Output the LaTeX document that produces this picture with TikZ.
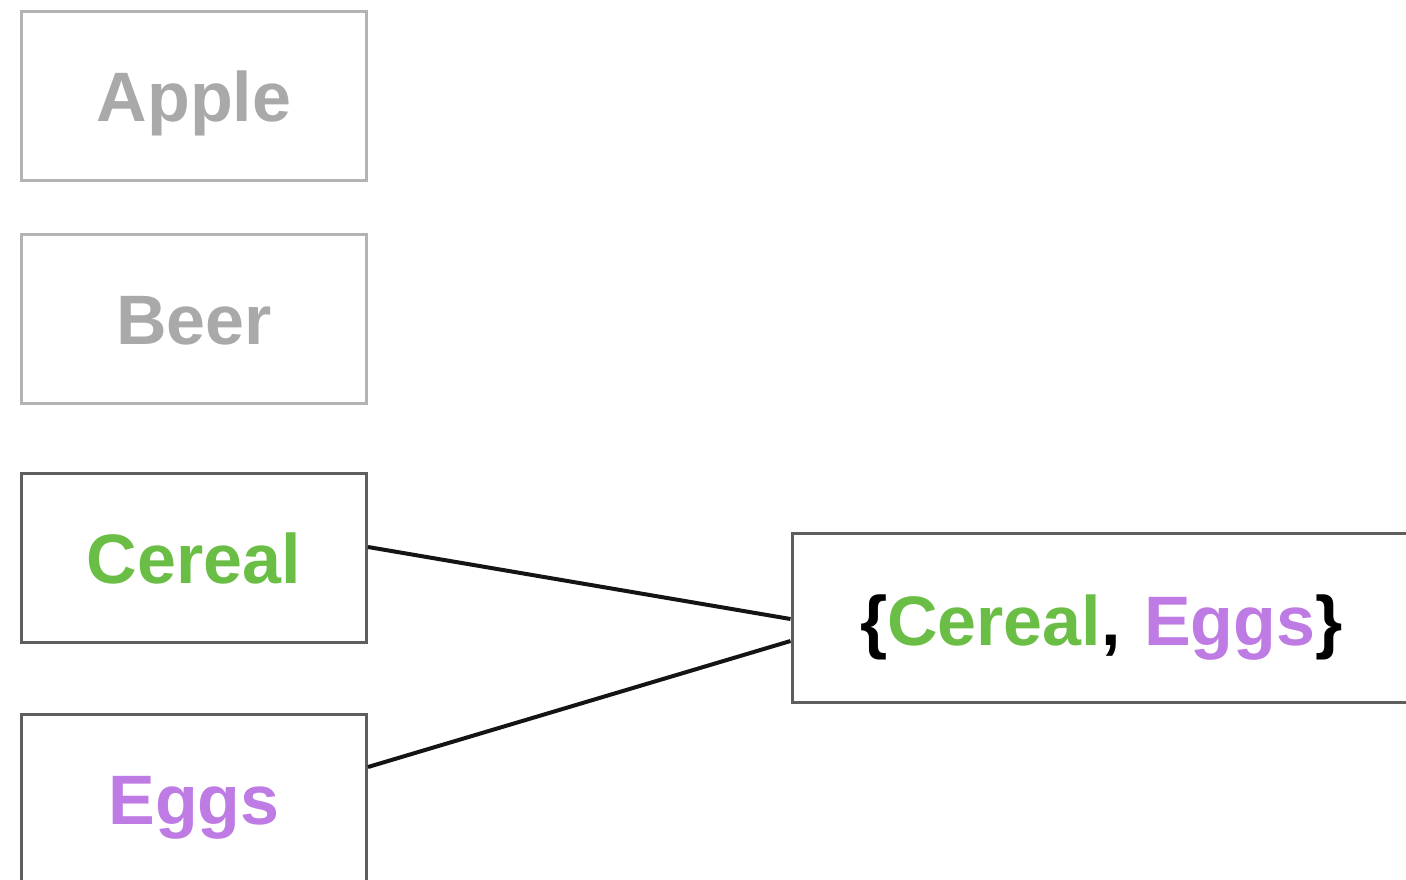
\documentclass[tikz,border=0pt]{standalone}
\usepackage{fontspec}
\setmainfont{Liberation Sans}
\definecolor{mutedline}{HTML}{B3B3B3}
\definecolor{mutedtext}{HTML}{A9A9A9}
\definecolor{darkline}{HTML}{5E5E5E}
\definecolor{cerealgreen}{HTML}{6BBE45}
\definecolor{eggpurple}{HTML}{BE7BE3}
\definecolor{linkcol}{HTML}{141414}
\tikzset{
  item/.style={draw, rectangle, line width=3pt, minimum width=345pt, minimum height=169pt,
    inner sep=0pt, text height=51pt, text depth=0pt,
    font=\fontsize{70}{84}\selectfont\bfseries},
  faded/.style={item, draw=mutedline, text=mutedtext},
  chosen/.style={item, draw=darkline},
  setbox/.style={item, draw=darkline, anchor=west, inner xsep=68pt, text width=560pt, align=left,
    text height=55pt},
  link/.style={draw=linkcol, line width=4pt}
}
\begin{document}
\begin{tikzpicture}[x=1pt, y=-1pt]
  \useasboundingbox (0,0) rectangle (1406,879);
  \clip (0,0) rectangle (1406,879);
  % single items
  \node[faded]  (apple)  at (194,96)  {Apple};
  \node[faded]  (beer)   at (194,318.5) {Beer};
  \node[chosen, text=cerealgreen] (cereal) at (194,558) {Cereal};
  \node[chosen, text=eggpurple]   (eggs)   at (194,799) {Eggs};
  % combined itemset
  \node[setbox] (pair) at (790.5,618)
    {\{\textcolor{cerealgreen}{Cereal}, \textcolor{eggpurple}{Eggs}\}};
  % connectors
  \draw[link] ([yshift=11pt]cereal.east) -- ([yshift=-1pt]pair.west);
  \draw[link] ([yshift=32pt]eggs.east) -- ([yshift=-23pt]pair.west);
\end{tikzpicture}
\end{document}
